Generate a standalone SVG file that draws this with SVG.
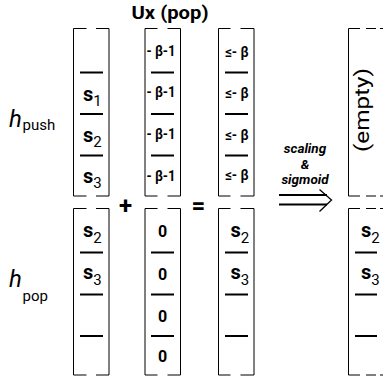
<svg xmlns="http://www.w3.org/2000/svg" width="383" height="383" viewBox="0 0 383 383">
<style>
.fr{fill:none;stroke:#000;stroke-width:1}
.dv{stroke:#000;stroke-width:2}
.s{font-family:Roboto,"Liberation Sans",sans-serif;font-weight:bold;font-size:20px;fill:#000}
.sub{font-weight:normal;font-size:15px}
.v{font-family:Roboto,"Liberation Sans",sans-serif;font-weight:bold;font-size:15px;fill:#000}
.z{font-family:Roboto,"Liberation Sans",sans-serif;font-weight:bold;font-size:16px;text-anchor:middle;fill:#000}
.h{font-family:Roboto,"Liberation Sans",sans-serif;font-style:italic;font-size:24px;fill:#000}
.hs{font-family:Roboto,"Liberation Sans",sans-serif;font-size:15px;fill:#000}
.lab{font-family:Roboto,"Liberation Sans",sans-serif;font-weight:bold;font-style:italic;font-size:13.5px;text-anchor:middle;fill:#000}
</style>
<text x="131.5" y="18.5" font-family="Roboto,'Liberation Sans',sans-serif" font-weight="bold" font-size="18" textLength="77" lengthAdjust="spacingAndGlyphs">Ux (pop)</text>
<g id="label-hpush"><text class="h" x="9" y="127">h</text><text class="hs" x="22.5" y="129.5">push</text></g>
<g id="label-hpop"><text class="h" x="9" y="287">h</text><text class="hs" x="22.5" y="301">pop</text></g>

<g id="hpush">
<path class="fr" d="M86.5,28.5H73.5V196H86.5M96,28.5H109V196H96"/>
<path class="dv" d="M80,72.5H103M80,114H103M80,155.5H103"/>
<text class="s" x="83" y="101">s<tspan class="sub" dy="5">1</tspan></text>
<text class="s" x="83" y="142">s<tspan class="sub" dy="5">2</tspan></text>
<text class="s" x="83" y="183">s<tspan class="sub" dy="5">3</tspan></text>
</g>
<g id="ux-push">
<path class="fr" d="M157.5,28.5H145V196H157.5M167.5,28.5H180.5V196H167.5"/>
<path class="dv" d="M151,72.5H174M151,114H174M151,155.5H174"/>
<text class="v" x="146.5" y="56" textLength="29" lengthAdjust="spacingAndGlyphs">- β-1</text>
<text class="v" x="146.5" y="97" textLength="29" lengthAdjust="spacingAndGlyphs">- β-1</text>
<text class="v" x="146.5" y="139" textLength="29" lengthAdjust="spacingAndGlyphs">- β-1</text>
<text class="v" x="146.5" y="181" textLength="29" lengthAdjust="spacingAndGlyphs">- β-1</text>
</g>
<g id="sum-push">
<path class="fr" d="M230.5,28.5H218.5V196H230.5M240.5,28.5H254V196H240.5"/>
<path class="dv" d="M225,72.5H248M225,114H248M225,155.5H248"/>
<text class="v" x="225" y="57" textLength="23.5" lengthAdjust="spacingAndGlyphs">≤- β</text>
<text class="v" x="225" y="98" textLength="23.5" lengthAdjust="spacingAndGlyphs">≤- β</text>
<text class="v" x="225" y="139.5" textLength="23.5" lengthAdjust="spacingAndGlyphs">≤- β</text>
<text class="v" x="225" y="180" textLength="23.5" lengthAdjust="spacingAndGlyphs">≤- β</text>
</g>
<g id="out-push">
<path class="fr" d="M360,28.5H348.5V196H360M366,28.5H376M380,28.5H383M366,196H376M380,196H383"/>
<text font-family="Roboto,'Liberation Sans',sans-serif" font-size="21" text-anchor="middle" transform="translate(369,110) rotate(-90)" textLength="84" lengthAdjust="spacingAndGlyphs">(empty)</text>
</g>

<g id="hpop">
<path class="fr" d="M86.5,208.5H73.5V375H86.5M96,208.5H109V375H96"/>
<path class="dv" d="M80,252.5H103M80,294.5H103M80,336H103"/>
<text class="s" x="83" y="237">s<tspan class="sub" dy="6">2</tspan></text>
<text class="s" x="83" y="278.5">s<tspan class="sub" dy="6">3</tspan></text>
</g>
<g id="ux-pop">
<path class="fr" d="M157.5,208.5H145V375H157.5M167.5,208.5H180.5V375H167.5"/>
<path class="dv" d="M151,252.5H174M151,294.5H174M151,336H174"/>
<text class="z" x="162.5" y="237">0</text>
<text class="z" x="162.5" y="280">0</text>
<text class="z" x="162.5" y="322">0</text>
<text class="z" x="162.5" y="362">0</text>
</g>
<g id="sum-pop">
<path class="fr" d="M230.5,208.5H218.5V375H230.5M240.5,208.5H254V375H240.5"/>
<path class="dv" d="M225,252.5H248M225,294.5H248M225,336H248"/>
<text class="s" x="230.5" y="237">s<tspan class="sub" dy="6">2</tspan></text>
<text class="s" x="230.5" y="278.5">s<tspan class="sub" dy="6">3</tspan></text>
</g>
<g id="out-pop">
<path class="fr" d="M360,208.5H348.5V375H360M366,208.5H376M380,208.5H383M366,375H376M380,375H383"/>
<path class="dv" d="M355,252.5H377M355,294.5H377M355,336H377"/>
<text class="s" x="361" y="237">s<tspan class="sub" dy="6">2</tspan></text>
<text class="s" x="361" y="278.5">s<tspan class="sub" dy="6">3</tspan></text>
</g>

<g id="operators">
<text x="125.5" y="214" font-family="Roboto,'Liberation Sans',sans-serif" font-weight="bold" font-size="24" text-anchor="middle">+</text>
<text x="198.5" y="214" font-family="Roboto,'Liberation Sans',sans-serif" font-weight="bold" font-size="24" text-anchor="middle">=</text>
</g>

<g id="connectors">
<path d="M279,195H327M279,204.5H327" stroke="#000" stroke-width="2" fill="none"/>
<path d="M319.5,189.5L331.5,200L319.5,211.5" stroke="#000" stroke-width="1.3" fill="none"/>
<text class="lab" x="305" y="153">scaling</text>
<text class="lab" x="305" y="168.5">&amp;</text>
<text class="lab" x="305" y="184">sigmoid</text>
</g>
</svg>
